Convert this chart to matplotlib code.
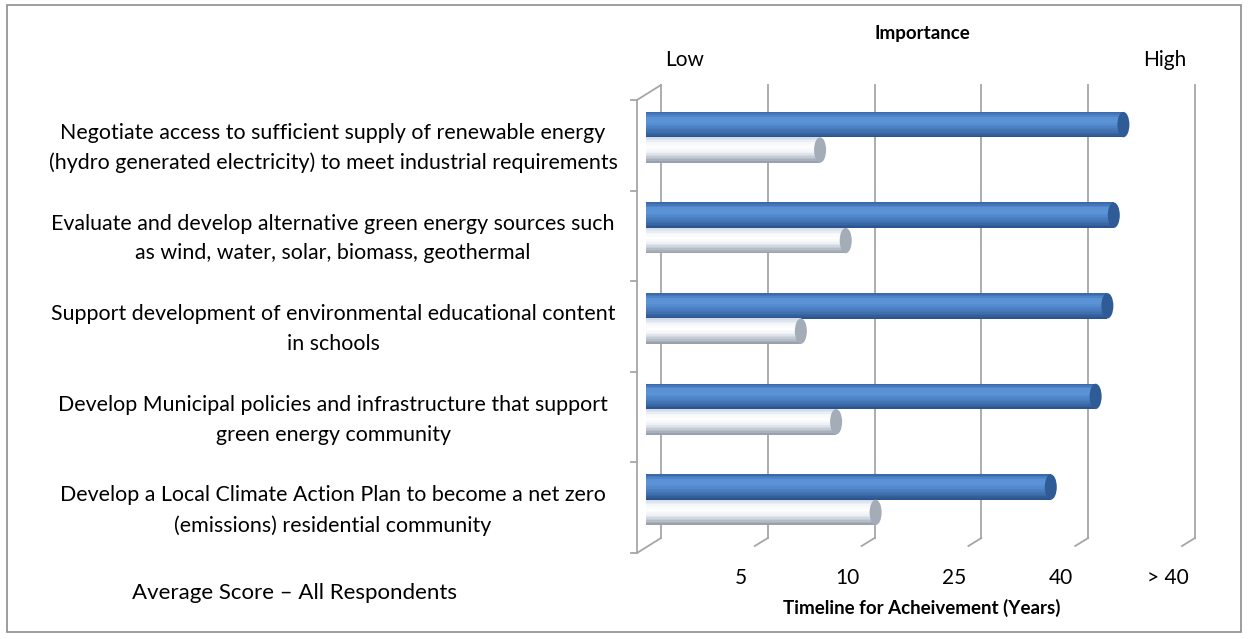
import numpy as np
import matplotlib
matplotlib.use('Agg')
import matplotlib.pyplot as plt
from matplotlib.colors import to_rgb
from matplotlib.patches import Ellipse, Rectangle
from matplotlib.lines import Line2D
from matplotlib.transforms import ScaledTranslation, IdentityTransform, blended_transform_factory

plt.rcParams['font.family'] = ['Lato', 'DejaVu Sans']

# data
categories = [
    'Negotiate access to sufficient supply of renewable energy\n(hydro generated electricity) to meet industrial requirements',
    'Evaluate and develop alternative green energy sources such\nas wind, water, solar, biomass, geothermal',
    'Support development of environmental educational content\nin schools',
    'Develop Municipal policies and infrastructure that support\ngreen energy community',
    'Develop a Local Climate Action Plan to become a net zero\n(emissions) residential community',
]
importance = [4.47, 4.38, 4.32, 4.21, 3.79]
timeline = [1.63, 1.87, 1.45, 1.78, 2.15]
timeline_labels = ['5', '10', '25', '40', '> 40']
timeline_pos = [1, 2, 3, 4, 5]

W, H = 1249, 639
fig = plt.figure(figsize=(W / 100, H / 100), dpi=100)
fig.patch.set_facecolor('white')

# bar plane
ax = fig.add_axes([646 / W, (H - 545) / H, 534 / W, 453 / H])
ax.set_xlim(0, 5)
ax.set_ylim(4.5, -0.5)
ax.axis('off')

def off(dx, dy):
    return ScaledTranslation(dx / 100, dy / 100, fig.dpi_scale_trans)

back = ax.transData + off(15, 7)
front = ax.transData + off(-9, -8)
wall = '#a6a6a6'

# back gridlines
for k in range(6):
    ax.plot([k, k], [-0.5, 4.5], color=wall, lw=1.3, transform=back, zorder=1, clip_on=False)

def px(xd, yd, dx, dy):
    x, y = ax.transData.transform((xd, yd))
    return x + dx, y + dy

def seg(p, q, color=wall, lw=1.3):
    fig.add_artist(Line2D([p[0], q[0]], [p[1], q[1]], color=color, lw=lw,
                          transform=IdentityTransform(), zorder=1))

# floor diagonals (short)
for k in range(1, 6):
    seg(px(k, 4.5, 15, 7), px(k, 4.5, 2, -1))

# left wall
ax.plot([0, 0], [-0.5, 4.5], color=wall, lw=1.3, transform=front, zorder=1, clip_on=False)
seg(px(0, -0.5, -9, -8), px(0, -0.5, 15, 7))
seg(px(0, 4.5, -9, -8), px(0, 4.5, 15, 7))
for b in np.arange(-0.5, 4.6, 1.0):
    seg(px(0, b, -9, -8), px(0, b, -15, -8))

# cylinder bars
def shade(anchors, n):
    cols = np.array([to_rgb(c) for c in anchors])
    t = np.linspace(0, 1, len(anchors))
    s = np.linspace(0, 1, n)
    return [tuple(np.interp(v, t, cols[:, j]) for j in range(3)) for v in s]

blue_cols = shade(['#3a6aab', '#5a92d6', '#5b93d6', '#4c82c5', '#3f6fae', '#2c5590'], 16)
white_cols = shade(['#d3dce8', '#f4f7fb', '#ffffff', '#eef1f5', '#c4cbd4', '#98a2ae'], 16)
bh = 0.28
cap_w = 12 / 106.8

def cylinder(yc, val, cols, cap_col):
    n = len(cols)
    hs = bh / n
    for j, c in enumerate(cols):
        ax.barh(yc - bh / 2 + hs * (j + 0.5), val, height=hs * 1.05, left=0,
                color=c, edgecolor='none', zorder=3)
    ax.add_patch(Ellipse((val, yc), cap_w, bh, facecolor=cap_col, edgecolor='none', zorder=4))
    ax.add_patch(Ellipse((0, yc), cap_w * 0.6, bh, facecolor=cols[n // 3], edgecolor='none', zorder=2))

for i in range(len(categories)):
    cylinder(i - 0.14, importance[i], blue_cols, '#2f5b96')
    cylinder(i + 0.14, timeline[i], white_cols, '#a3acb7')

# category labels
lbl_tr = blended_transform_factory(fig.transFigure, ax.transData) + off(0, -8)
for i, c in enumerate(categories):
    ax.text(333 / W, i + 0.03, c, transform=lbl_tr, ha='center', va='center',
            fontsize=15.4, linespacing=1.6, color='black')

# timeline tick labels
tick_tr = blended_transform_factory(ax.transData, fig.transFigure) + off(-12, 0)
for p, t in zip(timeline_pos, timeline_labels):
    ax.text(p, 1 - 578 / H, t, transform=tick_tr, ha='center', va='center', fontsize=15)

fig.text(922 / W, 1 - 608 / H, 'Timeline for Acheivement (Years)', ha='center', va='center',
         fontsize=13.5, fontweight='bold')
fig.text(922 / W, 1 - 33 / H, 'Importance', ha='center', va='center', fontsize=13.5, fontweight='bold')
fig.text(685 / W, 1 - 60 / H, 'Low', ha='center', va='center', fontsize=15)
fig.text(1165 / W, 1 - 60 / H, 'High', ha='center', va='center', fontsize=15)
fig.text(295 / W, 1 - 593 / H, 'Average Score \u2013 All Respondents', ha='center', va='center', fontsize=16)

# outer border
fig.add_artist(Rectangle((7 / W, 1 - 632 / H), 1234 / W, 627 / H, transform=fig.transFigure,
                         fill=False, edgecolor='#8c8c8c', lw=1.2))

fig.savefig('out.png', dpi=100)
